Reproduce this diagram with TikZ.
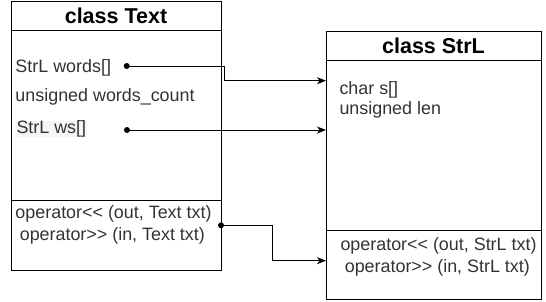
\documentclass[tikz,border=0pt]{standalone}
\usepackage{fontspec}
\setmainfont{Liberation Sans}
\usetikzlibrary{arrows.meta,calc,positioning}
\definecolor{txtgray}{HTML}{333333}
\definecolor{hlgray}{HTML}{F4F5F6}

\begin{document}
\begin{tikzpicture}[x=1pt, y=-1pt, line width=1pt,
  hdr/.style={draw, minimum height=29.5pt, inner sep=0pt, outer sep=0pt,
    font=\fontsize{21.5}{24}\selectfont\bfseries},
  body/.style={draw, inner sep=0pt, outer sep=0pt},
  member/.style={anchor=base west, inner sep=0pt, text=txtgray,
    font=\fontsize{17.9}{20}\selectfont},
  dot/.style={circle, fill, inner sep=0pt, minimum size=6pt},
  arr/.style={-{Stealth[length=9pt, width=7pt, inset=2.5pt]}}]

\useasboundingbox (0,0) rectangle (546,301);

% class Text
\node[hdr, minimum width=210pt, anchor=north west] (txt) at (11,1) {class Text};
\node[body, minimum width=210pt, minimum height=170pt, below=0pt of txt] (txtf) {};
\node[body, minimum width=210pt, minimum height=69.5pt, below=0pt of txtf] (txtm) {};

\node[member] (words) at (15,72.5) {StrL words[]};
\node[member] (wcount) at (15,101) {unsigned words\_count};
\node[member, fill=hlgray, inner xsep=1pt] (ws) at (15,133.5) {StrL ws[]};
\node[member] (tout) at (15,218.5) {operator<\kern0pt< (out, Text txt)};
\node[member] (tin) at (19.3,240) {operator>\kern0pt> (in, Text txt)};

% class StrL
\node[hdr, minimum width=215pt, anchor=north west] (strl) at (326,31) {class StrL};
\node[body, minimum width=215pt, minimum height=170pt, below=0pt of strl] (strf) {};
\node[body, minimum width=215pt, minimum height=69pt, below=0pt of strf] (strm) {};

\node[member] (chars) at (339,94) {char s[]};
\node[member] (len) at (339,114) {unsigned len};
\node[member] (sout) at (340,250) {operator<\kern0pt< (out, StrL txt)};
\node[member] (sin) at (344.3,272) {operator>\kern0pt> (in, StrL txt)};

% links
\node[dot] (d1) at (126.7,66) {};
\node[dot] (d2) at (127,130) {};
\node[dot] (d3) at (txtm.east |- 0,225.3) {};
\coordinate (t1) at (strf.west |- 0,80.7);
\coordinate (t2) at (strf.west |- d2);
\coordinate (t3) at (strm.west |- 0,260.7);

\draw[arr] (d1.center) -- ++(97.3,0) |- (t1);
\draw[arr] (d2.center) -- (t2);
\draw[arr] (d3.center) -- ++(51.7,0) |- (t3);

\end{tikzpicture}
\end{document}
